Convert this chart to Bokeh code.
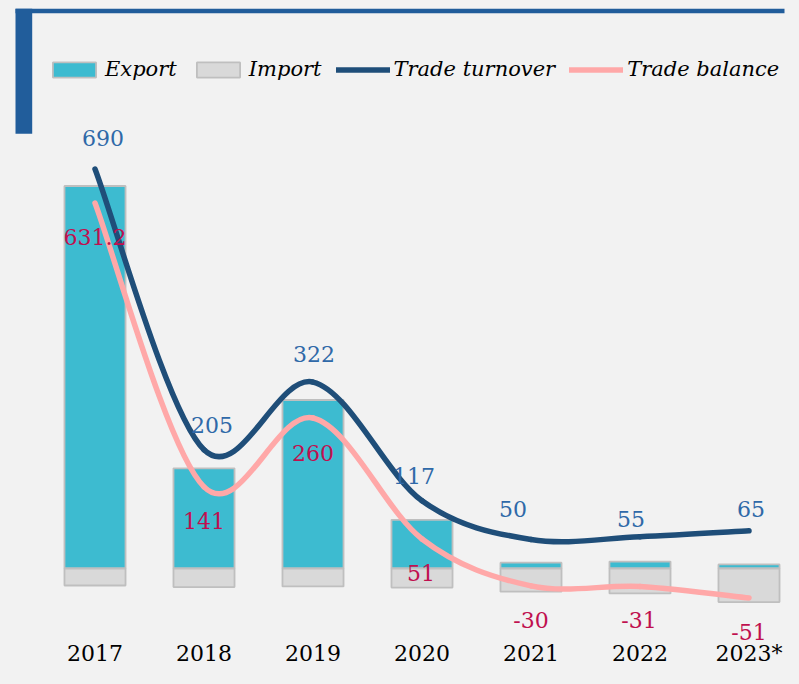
from bokeh.plotting import figure
from bokeh.models import (ColumnDataSource, Range1d, FixedTicker, Legend, LegendItem,
                          BoxAnnotation, GlobalInlineStyleSheet)
from bokeh.core.properties import value
from bokeh.embed import file_html
from bokeh.resources import INLINE

# ---------------- data ----------------
years = ["2017", "2018", "2019", "2020", "2021", "2022", "2023*"]
export = [660.6, 173, 291, 84, 10, 12, 7]
imports = [29.4, 32, 31, 33, 40, 43, 58]
turnover = [690, 205, 322, 117, 50, 55, 65]
balance = [631.2, 141, 260, 51, -30, -31, -51]

# label nudges in screen pixels (style only)
turn_dx = [8, 8, 1, -8, -18, -9, 2]
turn_dy = [-31, -25, -28, -25, -31, -18, -22]
bal_dx = [0, 0, 0, -1, 0, -1, 0]
bal_dy = [34, 34, 35, 34, 34, 34, 34]

# ---------------- style ----------------
BG = "#f2f2f2"
CYAN = "#3dbbd0"
GREY = "#d9d9d9"
EDGE = "#bfbfbf"
NAVY = "#1f4e79"
PINK = "#ffa8a8"
BLUE_TXT = "#2f69a8"
RED_TXT = "#c0104f"
DECOR = "#215d9b"
FONT = "DejaVu Serif"

W, H = 791, 668
FRAME_B = 650          # expected frame bottom (axis below takes the rest)
PX_X = 109.0           # pixels per category
X0_PX = 94.5           # pixel position of first category centre
PX_Y = 0.579           # pixels per unit
ZERO_PX = 568.0        # pixel row of zero line


def dx(px):
    return (px - X0_PX) / PX_X


def dy(py):
    return (ZERO_PX - py) / PX_Y


idx = list(range(len(years)))

p = figure(width=W, height=H, output_backend="svg", toolbar_location=None,
           x_range=Range1d(dx(0), dx(W)), y_range=Range1d(dy(FRAME_B), dy(0)),
           y_axis_location=None, min_border=0,
           background_fill_color=BG, border_fill_color=BG, outline_line_color=None)
p.grid.visible = False
p.stylesheets = [GlobalInlineStyleSheet(css="body{background:%s;}" % BG)]

xa = p.xaxis[0]
xa.ticker = FixedTicker(ticks=idx)
xa.major_label_overrides = {i: y for i, y in zip(idx, years)}
xa.axis_line_color = None
xa.major_tick_line_color = None
xa.minor_tick_line_color = None
xa.major_tick_out = 0
xa.major_tick_in = 0
xa.major_label_standoff = -10
xa.major_label_text_font = FONT
xa.major_label_text_font_size = "22px"
xa.major_label_text_color = "#000000"

# decorative frame (top rule and left block)
p.add_layout(BoxAnnotation(left=dx(15), right=dx(784), top=dy(8.3), bottom=dy(12.7),
                           fill_color=DECOR, fill_alpha=1, line_color=None, level="underlay"))
p.add_layout(BoxAnnotation(left=dx(15), right=dx(31.7), top=dy(8.3), bottom=dy(133.3),
                           fill_color=DECOR, fill_alpha=1, line_color=None, level="underlay"))

src = ColumnDataSource(dict(
    x=idx, export=export, imp_neg=[-v for v in imports],
    turnover=turnover, balance=balance,
    t_lab=[f"{v:g}" for v in turnover], b_lab=[f"{v:g}" for v in balance],
    t_dx=turn_dx, t_dy=turn_dy, b_dx=bal_dx, b_dy=bal_dy,
))

r_exp = p.vbar(x="x", bottom=0, top="export", width=0.56, fill_color=CYAN,
               line_color=EDGE, line_width=1.8, source=src)
r_imp = p.vbar(x="x", top=0, bottom="imp_neg", width=0.56, fill_color=GREY,
               line_color=EDGE, line_width=1.8, source=src)


def smooth(xs, ys):
    n = len(xs)
    seg = dict(x0=[], y0=[], x1=[], y1=[], cx0=[], cy0=[], cx1=[], cy1=[])
    for i in range(n - 1):
        a = i - 1 if i > 0 else i
        d = i + 2 if i + 2 < n else i + 1
        seg["x0"].append(xs[i]); seg["y0"].append(ys[i])
        seg["x1"].append(xs[i + 1]); seg["y1"].append(ys[i + 1])
        seg["cx0"].append(xs[i] + (xs[i + 1] - xs[a]) / 6)
        seg["cy0"].append(ys[i] + (ys[i + 1] - ys[a]) / 6)
        seg["cx1"].append(xs[i + 1] - (xs[d] - xs[i]) / 6)
        seg["cy1"].append(ys[i + 1] - (ys[d] - ys[i]) / 6)
    return ColumnDataSource(seg)


r_turn = p.bezier(x0="x0", y0="y0", x1="x1", y1="y1", cx0="cx0", cy0="cy0",
                  cx1="cx1", cy1="cy1", line_color=NAVY, line_width=5.5,
                  line_cap="round", source=smooth(idx, turnover))
r_bal = p.bezier(x0="x0", y0="y0", x1="x1", y1="y1", cx0="cx0", cy0="cy0",
                 cx1="cx1", cy1="cy1", line_color=PINK, line_width=5.5,
                 line_cap="round", source=smooth(idx, balance))

p.text(x="x", y="turnover", text="t_lab", x_offset="t_dx", y_offset="t_dy",
       text_font=value(FONT), text_font_size="22px", text_color=BLUE_TXT,
       text_align="center", text_baseline="middle", source=src)
p.text(x="x", y="balance", text="b_lab", x_offset="b_dx", y_offset="b_dy",
       text_font=value(FONT), text_font_size="22px", text_color=RED_TXT,
       text_align="center", text_baseline="middle", source=src)

legend = Legend(items=[LegendItem(label="Export", renderers=[r_exp]),
                       LegendItem(label="Import", renderers=[r_imp]),
                       LegendItem(label="Trade turnover", renderers=[r_turn]),
                       LegendItem(label="Trade balance", renderers=[r_bal])],
                orientation="horizontal", location=(47, FRAME_B - 81),
                glyph_width=54, glyph_height=19, label_standoff=4, spacing=14,
                padding=0, margin=0, background_fill_alpha=0, border_line_alpha=0,
                label_text_font=FONT, label_text_font_style="italic",
                label_text_font_size="21px", label_text_color="#000000")
p.add_layout(legend)

open("out.html", "w").write(file_html(p, INLINE))
